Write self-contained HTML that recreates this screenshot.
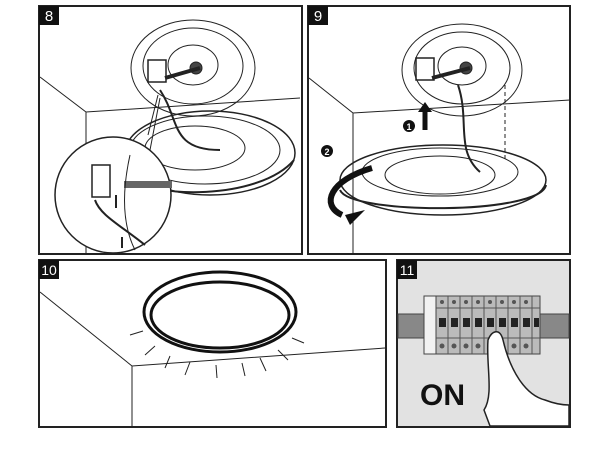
<!DOCTYPE html>
<html><head><style>
html,body{margin:0;padding:0;background:#fff;}
svg{display:block;}
text{font-family:"Liberation Sans",sans-serif;}
</style></head><body>
<svg width="600" height="465" viewBox="0 0 600 465" xmlns="http://www.w3.org/2000/svg">
<rect width="600" height="465" fill="#fff"/>
<g fill="none" stroke="#222" stroke-width="1">
<!-- Panel 8 -->
<rect x="39" y="6" width="263" height="248" stroke-width="2"/>
<path d="M40 77 L86 112 L300 98 M86 112 L86 253"/>
<ellipse cx="193" cy="68" rx="62" ry="48"/>
<ellipse cx="193" cy="66" rx="50" ry="38"/>
<ellipse cx="193" cy="65" rx="25" ry="20"/>
<circle cx="196" cy="68" r="6" fill="#444"/>
<path d="M165 78 L200 68" stroke-width="4"/>
<rect x="148" y="60" width="18" height="22" stroke-width="1.5"/>
<path d="M160 90 C180 120,170 150,220 150" stroke-width="2"/>
<ellipse cx="210" cy="153" rx="85" ry="42" stroke-width="1.5"/>
<ellipse cx="205" cy="150" rx="75" ry="34"/>
<ellipse cx="195" cy="148" rx="50" ry="22"/>
<path d="M125 175 C150 200,260 200,294 160" stroke-width="2"/>
<circle cx="113" cy="195" r="58" fill="#fff" stroke-width="1.5"/>
<path d="M148 135 L158 95 M150 150 L160 98"/>
<rect x="92" y="165" width="18" height="32" stroke-width="1.5"/>
<rect x="124" y="181" width="48" height="7" fill="#666" stroke="none"/>
<path d="M95 200 C100 215,120 225,145 245" stroke-width="2"/>
<path d="M130 155 C120 200,125 230,135 250"/>
<path d="M116 195 L116 208 M122 237 L122 248" stroke-width="2"/>
<!-- Panel 9 -->
<rect x="308" y="6" width="262" height="248" stroke-width="2"/>
<path d="M309 78 L353 113 L570 100 M353 113 L353 253"/>
<ellipse cx="462" cy="70" rx="60" ry="46"/>
<ellipse cx="462" cy="68" rx="48" ry="36"/>
<ellipse cx="462" cy="66" rx="24" ry="19"/>
<circle cx="466" cy="68" r="6" fill="#444"/>
<path d="M432 78 L470 68" stroke-width="4"/>
<rect x="416" y="58" width="18" height="22" stroke-width="1.5"/>
<path d="M458 85 C470 120,455 150,480 172" stroke-width="2"/>
<path d="M505 85 L505 160" stroke-dasharray="4 3"/>
<ellipse cx="443" cy="180" rx="103" ry="35" stroke-width="1.5"/>
<path d="M340 190 C350 215,540 215,546 185" stroke-width="2"/>
<ellipse cx="440" cy="172" rx="78" ry="24"/>
<ellipse cx="440" cy="175" rx="55" ry="19"/>
<path d="M372 168 C330 180,320 205,342 215" stroke="#111" stroke-width="6"/>
<path d="M425 130 L425 110" stroke="#111" stroke-width="5"/>
<!-- Panel 10 -->
<rect x="39" y="260" width="347" height="167" stroke-width="2"/>
<path d="M40 292 L132 366 L385 348 M132 366 L132 426"/>
<ellipse cx="220" cy="312" rx="76" ry="40" stroke="#111" stroke-width="3"/>
<ellipse cx="220" cy="315" rx="69" ry="33" stroke="#111" stroke-width="3"/>
<path d="M130 335 L143 331 M145 355 L155 346 M165 368 L170 356 M185 375 L190 362 M217 378 L216 365 M245 376 L242 363 M266 371 L260 358 M288 360 L278 350 M304 343 L292 338"/>
<!-- Panel 11 -->
<rect x="397" y="260" width="173" height="167" fill="#e2e2e2" stroke-width="2"/>
<rect x="398" y="314" width="171" height="24" fill="#888" stroke="#444"/>
<rect x="428" y="296" width="112" height="58" fill="#bbb" stroke="#444"/>
<rect x="424" y="296" width="12" height="58" fill="#f2f2f2" stroke="#444"/>
<path d="M436 308 H540 M436 338 H540 M448 296 V354 M460 296 V354 M472 296 V354 M484 296 V354 M496 296 V354 M508 296 V354 M520 296 V354 M532 296 V354" stroke="#555"/>
<path d="M488 340 C492 330,500 328,503 340 C510 370,525 395,545 400 C558 405,568 405,569 405 L569 426 L490 426 L484 410 C494 395,486 365,488 340 Z" fill="#fff" stroke="#222" stroke-width="1.5"/>
</g>
<g fill="#222">
<rect x="439" y="318" width="7" height="9"/><rect x="451" y="318" width="7" height="9"/><rect x="463" y="318" width="7" height="9"/><rect x="475" y="318" width="7" height="9"/><rect x="487" y="318" width="7" height="9"/><rect x="499" y="318" width="7" height="9"/><rect x="511" y="318" width="7" height="9"/><rect x="523" y="318" width="7" height="9"/><rect x="534" y="318" width="5" height="9"/>
</g>
<g fill="#555">
<circle cx="442" cy="302" r="2"/><circle cx="454" cy="302" r="2"/><circle cx="466" cy="302" r="2"/><circle cx="478" cy="302" r="2"/><circle cx="490" cy="302" r="2"/><circle cx="502" cy="302" r="2"/><circle cx="514" cy="302" r="2"/><circle cx="526" cy="302" r="2"/>
<circle cx="442" cy="346" r="2.5"/><circle cx="454" cy="346" r="2.5"/><circle cx="466" cy="346" r="2.5"/><circle cx="478" cy="346" r="2.5"/><circle cx="514" cy="346" r="2.5"/><circle cx="526" cy="346" r="2.5"/>
</g>
<text x="420" y="405" font-size="30" font-weight="bold" fill="#111">ON</text>
<circle cx="409" cy="126" r="6" fill="#111"/><text x="409" y="130" font-size="9" fill="#fff" text-anchor="middle" font-weight="bold">1</text>
<circle cx="327" cy="151" r="6" fill="#111"/><text x="327" y="155" font-size="9" fill="#fff" text-anchor="middle" font-weight="bold">2</text>
<polygon points="345,215 365,210 350,225" fill="#111"/>
<polygon points="418,112 425,102 432,112" fill="#111"/>
<rect x="39" y="6" width="20" height="19" fill="#111"/><text x="49" y="21" font-size="15" fill="#fff" text-anchor="middle">8</text>
<rect x="308" y="6" width="20" height="19" fill="#111"/><text x="318" y="21" font-size="15" fill="#fff" text-anchor="middle">9</text>
<rect x="39" y="260" width="20" height="19" fill="#111"/><text x="49" y="275" font-size="14" fill="#fff" text-anchor="middle">10</text>
<rect x="397" y="260" width="20" height="19" fill="#111"/><text x="407" y="275" font-size="14" fill="#fff" text-anchor="middle">11</text>
</svg>
</body></html>
